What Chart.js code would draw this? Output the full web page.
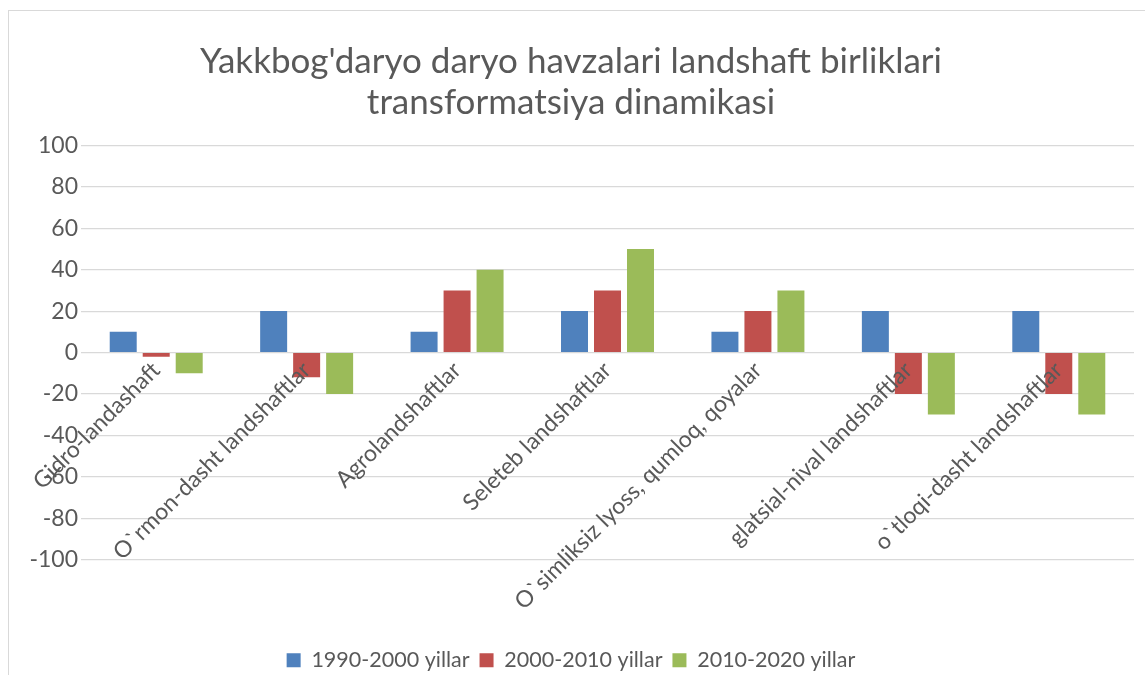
<!DOCTYPE html>
<html>
<head>
<meta charset="utf-8">
<script src="https://cdn.jsdelivr.net/npm/chart.js@4.4.0/dist/chart.umd.min.js"></script>
<style>
html, body { margin: 0; padding: 0; overflow: hidden; background: #fff; }
#frame { position: absolute; left: 8px; top: 10px; width: 1200px; height: 700px; border: 1px solid #d9d9d9; }
#chart { position: absolute; left: 0; top: 0; }
</style>
</head>
<body>
<div id="frame"></div>
<canvas id="chart" width="1145" height="681"></canvas>
<script>
const categories = [
    'Gidro-landashaft',
    'O`rmon-dasht landshaftlar',
    'Agrolandshaftlar',
    'Seleteb landshaftlar',
    'O`simliksiz lyoss, qumloq, qoyalar',
    'glatsial-nival landshaftlar',
    'o`tloqi-dasht landshaftlar'
]
const series1990 = [10, 20, 10, 20, 10, 20, 20]
const series2000 = [-2, -12, 30, 30, 20, -20, -20]
const series2010 = [-10, -20, 40, 50, 30, -30, -30]
const seriesNames = ['1990-2000 yillar', '2000-2010 yillar', '2010-2020 yillar']
const titleLines = ["Yakkbog'daryo daryo havzalari landshaft birliklari", 'transformatsiya dinamikasi']
const yMin = -100
const yMax = 100
const yStep = 20

const textColor = '#595959'
const gridColor = '#d9d9d9'
const fontFamily = 'Lato, "Open Sans", sans-serif'

const makeSet = (label, data, color) => ({
    label: label,
    data: data,
    backgroundColor: color,
    borderWidth: 0,
    categoryPercentage: 0.658,
    barPercentage: 0.818
})

new Chart(document.getElementById('chart'), {
    type: 'bar',
    data: {
        labels: categories,
        datasets: [
            makeSet(seriesNames[0], series1990, '#4f81bd'),
            makeSet(seriesNames[1], series2000, '#c0504d'),
            makeSet(seriesNames[2], series2010, '#9bbb59')
        ]
    },
    options: {
        responsive: false,
        animation: false,
        layout: {
            padding: { left: 8, right: 11, top: 0, bottom: 0 }
        },
        scales: {
            x: {
                position: { y: 0 },
                grid: { display: false, drawTicks: false },
                border: { display: false },
                ticks: {
                    z: 1, // labels sit on top of the bars
                    color: textColor,
                    font: { family: fontFamily, size: 23 },
                    minRotation: 45,
                    maxRotation: 45,
                    autoSkip: false,
                    padding: 4
                }
            },
            y: {
                min: yMin,
                max: yMax,
                grid: { color: gridColor, lineWidth: 1.2, drawTicks: false },
                border: { display: false },
                ticks: {
                    stepSize: yStep,
                    color: textColor,
                    font: { family: fontFamily, size: 23 },
                    padding: 3
                },
                afterFit: function (scale) {
                    scale.width = 73
                }
            }
        },
        plugins: {
            title: {
                display: true,
                text: titleLines,
                color: textColor,
                font: { family: fontFamily, size: 35, weight: 'normal', lineHeight: 1.15 },
                padding: { top: 42, bottom: 23 }
            },
            legend: {
                position: 'bottom',
                title: {
                    display: true,
                    text: '',
                    font: { size: 10, lineHeight: 1 },
                    padding: { top: 0, bottom: 70 }
                },
                labels: {
                    color: textColor,
                    font: { family: fontFamily, size: 21.5 },
                    boxWidth: 14,
                    boxHeight: 14,
                    padding: 10
                }
            },
            tooltip: { enabled: false }
        }
    }
})
</script>
</body>
</html>
